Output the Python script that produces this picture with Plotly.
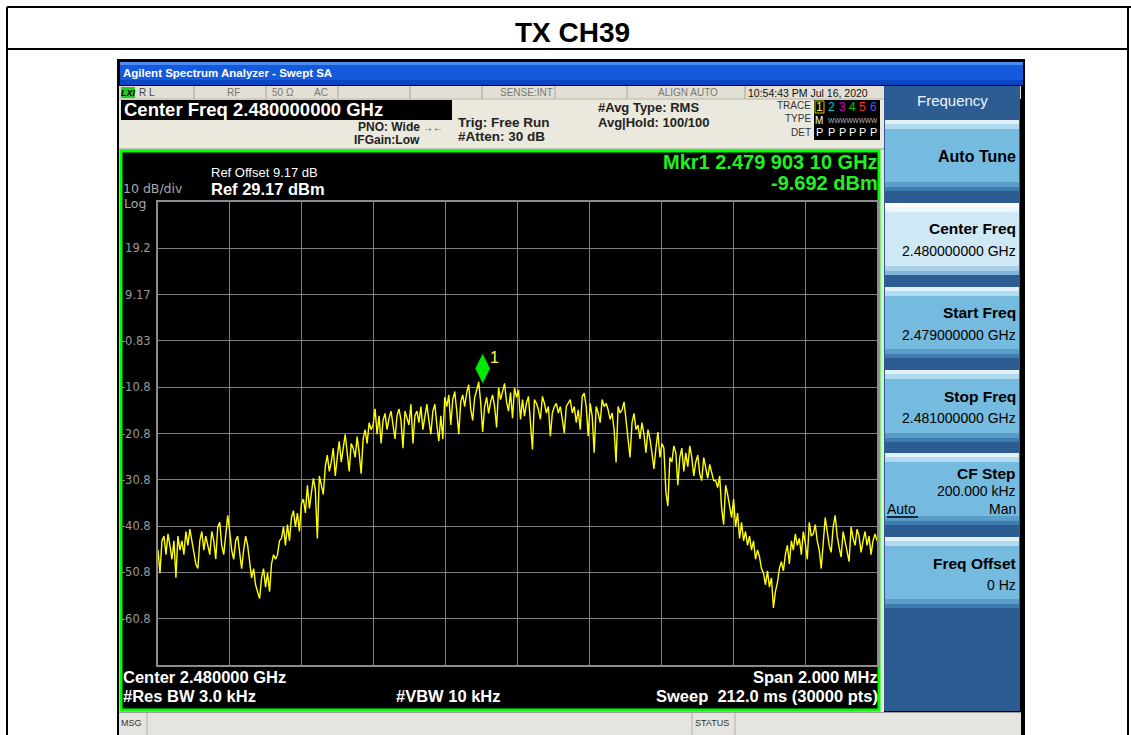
import plotly.graph_objects as go

# ---------------- data ----------------
start_ghz = 2.479
stop_ghz = 2.481
ref_level_dbm = 29.17
db_per_div = 10.0
divisions = 10

floor_left = [-46, -51, -44, -43, -47, -42.5, -45, -48, -44, -52,
              -43, -46, -44, -47, -42, -45, -41.5, -44, -47, -49,
              -50, -44, -42, -46, -43, -45, -47, -42, -44, -48,
              -41, -40, -45, -47, -43, -38.5, -42, -46, -48, -44,
              -43, -47, -50, -46, -43]
notch_left = [-45, -48, -52, -50, -53.5, -55, -56.5, -52, -50, -54, -51, -55, -49, -47, -48]
skirt_left = [-47, -44, -43.5, -41, -45, -40.5, -44, -39, -37.5, -41,
              -38, -42, -36, -35, -38, -32, -37, -34, -30.5, -33,
              -43.5, -30, -32, -34, -28, -25.5, -29, -27, -24, -30,
              -26, -22.5, -27, -24, -21, -25, -29, -23, -24, -26,
              -21.5, -25, -29.5, -22, -20, -23, -18.5, -20]
shoulder_left = [-19, -15.5, -21, -17, -23, -18, -16.5, -20, -17.5, -16,
                 -19, -22, -17, -15.5, -18, -24, -16, -17.5, -19, -14.5,
                 -23, -17, -16, -18.5, -15, -20, -17, -14.5, -18, -21,
                 -16, -14.5, -19, -22.5, -17]
crest_left = [-22, -13, -15, -12.5, -19, -13.5, -11.8, -16, -21, -14,
              -12.5, -15, -12, -10.3, -15.5, -18, -13, -11.5, -9.69, -14,
              -20.5, -15, -13, -16.5, -14, -12.5, -15, -19.5, -11, -13.5,
              -12, -10, -14, -16, -12, -17.5, -11, -13]
crest_right = [-11.4, -17.8, -13.5, -17.1, -14.3, -12.8, -18.5, -24.3, -13.5, -14.3,
               -15.7, -17.8, -12.8, -14.3, -16.4, -15, -21.4, -16.4, -15, -14.3,
               -16.4, -15, -17.8, -20.7, -15, -14.3, -13.5, -16.4, -15, -18.5,
               -15.7, -20, -12.8, -12.1, -15, -21.4, -14.3, -17.1, -25, -15,
               -16.4, -18.5, -13.5, -15, -14.3, -15.7, -17.8, -16.4, -20, -27.1,
               -15, -16.4, -15.7]
shoulder_right = [-14, -18, -21, -26, -18.5, -16.5, -20, -19, -22, -18.5, -21, -25]
slope_right = [-20, -22, -25, -28.5, -24, -20.5, -26, -23, -24, -33.5,
               -36.5, -26, -27, -23.5, -25, -32, -26, -24, -29, -25,
               -28, -23.5, -26, -30, -27, -25.5, -29.5, -31, -26, -28.5,
               -30.5, -27.5, -29, -31]
skirt_right = [-31, -32.5, -30, -37, -40.5, -32, -34, -36.5, -39, -35,
               -41, -38, -43.5, -40, -44, -42, -45, -43, -46, -44,
               -48, -46, -47.5, -50]
notch_right = [-51, -53.5, -50.5, -54, -52, -58.5, -55, -53, -50, -48.5]
rise_right = [-50.5, -47, -45, -49, -44, -46, -42.5, -45, -43.5, -47, -42, -44.5, -48]
floor_right = [-40, -43, -42.5, -40.5, -44, -46, -50, -44.5, -39, -42,
               -45, -46.5, -41, -38.5, -43, -45.5, -47.5, -42, -44, -46,
               -48.5, -41, -43.5, -45, -41.5, -43, -46.5, -44, -42, -45,
               -43, -47, -44, -42.5, -44]

marker_freq_ghz = 2.47990310
marker_level_dbm = -9.692

ytick_values = [19.17, 9.17, -0.83, -10.83, -20.83, -30.83, -40.83, -50.83, -60.83]
ytick_labels = ["19.2", "9.17", "-0.83", "-10.8", "-20.8", "-30.8", "-40.8", "-50.8", "-60.8"]

softkey_titles = ["Auto Tune", "Center Freq", "Start Freq", "Stop Freq", "CF Step", "Freq Offset"]
softkey_values = ["", "2.480000000 GHz", "2.479000000 GHz", "2.481000000 GHz", "200.000 kHz", "0 Hz"]

level_dbm = (floor_left + notch_left + skirt_left + shoulder_left + crest_left + crest_right
             + shoulder_right + slope_right + skirt_right + notch_right + rise_right + floor_right)
n_pts = len(level_dbm)
step = (stop_ghz - start_ghz) / (n_pts - 1)
freq_ghz = [start_ghz + i * step for i in range(n_pts)]

# ---------------- geometry helpers ----------------
W, H = 1131, 735
PL, PR, PT, PB = 158, 877, 202, 665
FONT = "Liberation Sans, Arial, sans-serif"
GREYFONT = "DejaVu Sans, Liberation Sans, sans-serif"


def fx(x):
    return (x - PL) / (PR - PL)


def fy(y):
    return (PB - y) / (PB - PT)


shapes = []
annotations = []


def rect(x0, y0, x1, y1, fill, line=None, lw=0):
    shapes.append(dict(type="rect", xref="paper", yref="paper",
                       x0=fx(x0), x1=fx(x1), y0=fy(y1), y1=fy(y0),
                       fillcolor=fill, line=dict(color=line or fill, width=lw), layer="below"))


def seg(x0, y0, x1, y1, color, width=1):
    shapes.append(dict(type="line", xref="paper", yref="paper",
                       x0=fx(x0), x1=fx(x1), y0=fy(y0), y1=fy(y1),
                       line=dict(color=color, width=width), layer="below"))


def text(x, y, s, size, color="#000000", bold=False, anchor="left", family=FONT):
    annotations.append(dict(xref="paper", yref="paper", x=fx(x), y=fy(y),
                            text=("<b>%s</b>" % s) if bold else s, showarrow=False,
                            xanchor=anchor, yanchor="middle", borderpad=0, borderwidth=0,
                            font=dict(size=size, color=color, family=family)))


# ---------------- page frame ----------------
seg(7, 7, 1131, 7, "#000000", 2)
seg(7, 7, 7, 735, "#000000", 2)
seg(1128, 7, 1128, 735, "#000000", 2)
seg(7, 49, 1128, 49, "#000000", 2)
text(572, 32, "TX CH39", 28, "#000000", bold=True, anchor="center")

# ---------------- analyzer window ----------------
rect(117, 59, 1025, 735, "#000000")
rect(120, 62, 1023, 85, "#1559dc")
rect(120, 62, 1023, 65, "#4a8cf2")
rect(120, 80, 1023, 85, "#0a45c4")
text(123, 73, "Agilent Spectrum Analyzer - Swept SA", 11.5, "#ffffff", bold=True)

# beige body
rect(119, 86, 884, 712, "#ebe8dd")
# status row
rect(119, 86, 1021, 99, "#e2dfd4")
for sx in [194, 266, 338, 410, 482, 555, 627, 745]:
    seg(sx, 86, sx, 99, "#a9a597", 1)
seg(119, 99, 884, 99, "#b8b4a8", 1)
rect(121, 87, 135, 98, "#22cc22")
text(128, 92.5, "<i>LXI</i>", 9, "#000000", bold=True, anchor="center")
text(139, 92.5, "R L", 10, "#444444")
text(227, 92.5, "RF", 10, "#777777")
text(272, 92.5, "50 Ω", 10, "#777777")
text(314, 92.5, "AC", 10, "#777777")
text(553, 92.5, "SENSE:INT", 10, "#777777", anchor="right")
text(688, 92.5, "ALIGN AUTO", 10, "#777777", anchor="center")
text(748, 92.5, "10:54:43 PM Jul 16, 2020", 10.5, "#111111")

# header
rect(121, 100, 452, 120, "#000000")
text(124, 110, "Center Freq 2.480000000 GHz", 18.5, "#ffffff", bold=True)
text(420, 127, "PNO: Wide", 12, "#222222", bold=True, anchor="right")
text(423, 127, "→←", 10, "#222222")
text(420, 140, "IFGain:Low", 12, "#222222", bold=True, anchor="right")
text(458, 122, "Trig: Free Run", 13.5, "#222222", bold=True)
text(458, 137, "#Atten: 30 dB", 13.5, "#222222", bold=True)
text(598, 107, "#Avg Type: RMS", 13, "#222222", bold=True)
text(598, 122, "Avg|Hold: 100/100", 13, "#222222", bold=True)
text(811, 106, "TRACE", 10, "#333333", anchor="right")
text(811, 119, "TYPE", 10, "#333333", anchor="right")
text(811, 132, "DET", 10, "#333333", anchor="right")
rect(814, 100, 880, 140, "#000000")
rect(815, 101, 824, 113, "#000000", "#c8c800", 1)
trace_cols = ["#f0f000", "#00c8c8", "#d000d0", "#00c800", "#ff3030", "#5050ff"]
trace_x = [819.5, 831, 842, 852, 862, 873]
for i, (tx_, col) in enumerate(zip(trace_x, trace_cols)):
    text(tx_, 107, str(i + 1), 12, col, anchor="center")
    text(tx_, 132, "P", 11, "#ffffff", anchor="center")
text(815, 120, "M", 10, "#ffffff")
text(878, 120, "WWWWWWWW", 6.5, "#bbbbbb", anchor="right")
seg(119, 149, 884, 149, "#9a9a9a", 1)

# green display
rect(121, 151, 879, 710, "#000000", "#00ff00", 3)

# softkey panel
rect(884, 86, 1020, 711, "#2d5c92")
text(952, 101, "Frequency", 15, "#f0f4ff", anchor="center")
btn_y = [(120, 191), (203, 275), (287, 358), (370, 442), (453, 525), (537, 608)]
for k, (y0, y1) in enumerate(btn_y):
    if k == 1:
        body, top, mid, low1, low2 = "#cfe8f6", "#ffffff", "#eaf6fc", "#a6d0ea", "#7db4d8"
    else:
        body, top, mid, low1, low2 = "#75bbe0", "#e2f2fa", "#b2dbef", "#5a9dc8", "#3d7cae"
    rect(885, y0, 1019, y1, body)
    rect(885, y0, 1019, y0 + 4, top)
    rect(885, y0 + 4, 1019, y0 + 9, mid)
    rect(885, y1 - 9, 1019, y1 - 4, low1)
    rect(885, y1 - 4, 1019, y1, low2)

text(1016, 156, softkey_titles[0], 16, "#000000", bold=True, anchor="right")
label_y = [(228, 251), (312, 335), (396, 418)]
for k, (ty, vy) in enumerate(label_y, start=1):
    text(1016, ty, softkey_titles[k], 15.5, "#000000", bold=True, anchor="right")
    text(1016, vy, softkey_values[k], 14, "#000000", anchor="right")
text(1016, 473, softkey_titles[4], 15.5, "#000000", bold=True, anchor="right")
text(1016, 491, softkey_values[4], 14, "#000000", anchor="right")
text(887, 509, "Auto", 14, "#000000")
seg(887, 517, 918, 517, "#000000", 1.5)
text(1016, 509, "Man", 14, "#000000", anchor="right")
text(1016, 563, softkey_titles[5], 15.5, "#000000", bold=True, anchor="right")
text(1016, 585, softkey_values[5], 14, "#000000", anchor="right")

# bottom message bar
rect(119, 712, 1021, 735, "#e6e4de")
seg(119, 712.5, 1021, 712.5, "#9c9c9c", 1)
for sx in [147, 692, 735]:
    seg(sx, 713, sx, 735, "#b0ada4", 1)
text(121, 723, "MSG", 9, "#333333")
text(695, 723, "STATUS", 9, "#333333")

# texts inside display
text(211, 173, "Ref Offset 9.17 dB", 13, "#ffffff")
text(211, 189, "Ref 29.17 dBm", 16.5, "#ffffff", bold=True)
text(123, 189, "10 dB/div", 12.5, "#a8a8a8", family=GREYFONT)
text(124, 203, "Log", 12.5, "#a8a8a8", family=GREYFONT)
text(878, 162, "Mkr1 2.479 903 10 GHz", 20, "#22f022", bold=True, anchor="right")
text(878, 183, "-9.692 dBm", 20, "#22f022", bold=True, anchor="right")
text(123, 677, "Center 2.480000 GHz", 16.5, "#ffffff", bold=True)
text(123, 696, "#Res BW 3.0 kHz", 16.5, "#ffffff", bold=True)
text(396, 696, "#VBW 10 kHz", 16.5, "#ffffff", bold=True)
text(878, 677, "Span 2.000 MHz", 16.5, "#ffffff", bold=True, anchor="right")
text(878, 696, "Sweep\u00a0\u00a0212.0 ms (30000 pts)", 16.5, "#ffffff", bold=True, anchor="right")

# marker label "1"
annotations.append(dict(xref="x", yref="y", x=marker_freq_ghz, y=marker_level_dbm, text="1",
                        showarrow=False, xshift=12, yshift=24, xanchor="center", yanchor="middle",
                        font=dict(size=16, color="#ffff40", family=FONT)))

# ---------------- figure ----------------
fig = go.Figure()
fig.add_trace(go.Scatter(x=freq_ghz, y=level_dbm, mode="lines",
                         line=dict(color="#ffff00", width=1.4), hoverinfo="skip"))
fig.add_trace(go.Scatter(x=[marker_freq_ghz], y=[marker_level_dbm + 2.9], mode="markers",
                         marker=dict(symbol="diamond-tall", size=21, color="#00e800",
                                     line=dict(width=0)), hoverinfo="skip"))

span = stop_ghz - start_ghz
fig.update_layout(
    width=W, height=H, autosize=False,
    margin=dict(l=PL, r=W - PR, t=PT, b=H - PB, pad=0),
    paper_bgcolor="#ffffff", plot_bgcolor="#000000",
    showlegend=False,
    shapes=shapes, annotations=annotations,
    xaxis=dict(range=[start_ghz, stop_ghz], tick0=start_ghz, dtick=span / divisions,
               showticklabels=False, ticks="", showgrid=True, gridcolor="#808080", gridwidth=1,
               zeroline=False, showline=True, linecolor="#8c8c8c", linewidth=2, mirror=True),
    yaxis=dict(range=[ref_level_dbm - db_per_div * divisions, ref_level_dbm],
               tickmode="array", tickvals=ytick_values, ticktext=ytick_labels, ticks="",
               tickfont=dict(size=11.5, color="#9a9a9a", family=GREYFONT), ticklabelstandoff=3,
               showgrid=True, gridcolor="#808080", gridwidth=1,
               zeroline=False, showline=True, linecolor="#8c8c8c", linewidth=2, mirror=True),
)

fig.write_html("out.html", config={"displayModeBar": False},
               post_script="document.body.style.margin='0px';document.body.style.overflow='hidden';")
